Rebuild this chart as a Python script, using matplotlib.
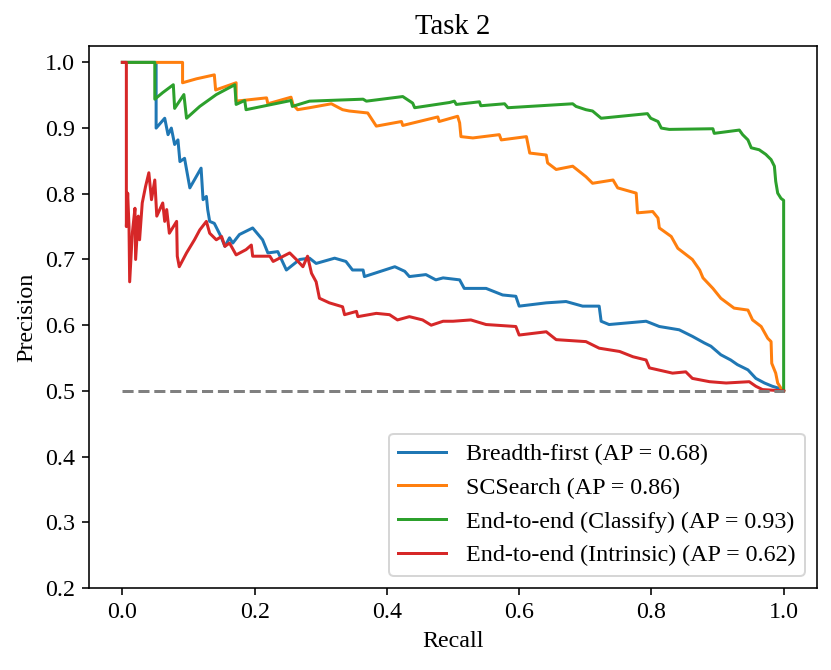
import numpy as np
import matplotlib
matplotlib.use("Agg")
import matplotlib.pyplot as plt

plt.rcParams['font.family'] = ['Liberation Serif', 'DejaVu Serif']
plt.rcParams['font.size'] = 12

# precision-recall curves
bf_recall = [0.0, 0.051, 0.051, 0.064, 0.069, 0.074, 0.079, 0.084, 0.087, 0.094, 0.097, 0.102,
             0.119, 0.122, 0.127, 0.129, 0.132, 0.139, 0.149, 0.155, 0.162, 0.167, 0.177, 0.197,
             0.212, 0.220, 0.235, 0.248, 0.268, 0.283, 0.293, 0.321, 0.338, 0.348, 0.364, 0.366,
             0.412, 0.427, 0.434, 0.459, 0.474, 0.485, 0.510, 0.517, 0.550, 0.575, 0.595, 0.600,
             0.641, 0.671, 0.696, 0.721, 0.724, 0.736, 0.792, 0.812, 0.842, 0.862, 0.880, 0.890,
             0.905, 0.920, 0.930, 0.946, 0.958, 0.971, 0.983, 0.993, 1.0]
bf_precision = [1.0, 1.0, 0.900, 0.915, 0.890, 0.900, 0.875, 0.882, 0.849, 0.854, 0.837, 0.809,
                0.839, 0.791, 0.796, 0.776, 0.758, 0.755, 0.735, 0.720, 0.733, 0.725, 0.738, 0.748,
                0.730, 0.710, 0.712, 0.684, 0.700, 0.702, 0.694, 0.702, 0.697, 0.684, 0.684, 0.674,
                0.689, 0.682, 0.674, 0.677, 0.669, 0.672, 0.669, 0.656, 0.656, 0.646, 0.644, 0.629,
                0.634, 0.636, 0.629, 0.629, 0.606, 0.601, 0.606, 0.598, 0.593, 0.583, 0.573, 0.568,
                0.555, 0.547, 0.540, 0.532, 0.519, 0.512, 0.507, 0.504, 0.500]

sc_recall = [0.0, 0.091, 0.091, 0.112, 0.139, 0.141, 0.172, 0.172, 0.218, 0.220, 0.255, 0.258,
             0.265, 0.283, 0.316, 0.333, 0.343, 0.371, 0.384, 0.422, 0.424, 0.477, 0.479, 0.507,
             0.510, 0.512, 0.530, 0.570, 0.573, 0.611, 0.616, 0.641, 0.643, 0.656, 0.681, 0.691,
             0.701, 0.711, 0.742, 0.749, 0.777, 0.779, 0.802, 0.810, 0.812, 0.830, 0.840, 0.862,
             0.873, 0.878, 0.893, 0.905, 0.925, 0.946, 0.953, 0.966, 0.976, 0.981, 0.982, 0.988,
             0.991, 0.996, 1.0]
sc_precision = [1.0, 1.0, 0.969, 0.975, 0.981, 0.958, 0.969, 0.941, 0.946, 0.937, 0.947, 0.936,
                0.928, 0.931, 0.937, 0.928, 0.926, 0.923, 0.903, 0.910, 0.904, 0.917, 0.910, 0.918,
                0.908, 0.887, 0.885, 0.890, 0.882, 0.887, 0.862, 0.859, 0.847, 0.837, 0.842, 0.834,
                0.826, 0.816, 0.821, 0.809, 0.801, 0.771, 0.773, 0.763, 0.748, 0.735, 0.717, 0.700,
                0.684, 0.672, 0.656, 0.641, 0.626, 0.623, 0.608, 0.598, 0.580, 0.575, 0.542, 0.527,
                0.512, 0.504, 0.500]

cl_recall = [0.0, 0.049, 0.049, 0.061, 0.077, 0.079, 0.093, 0.097, 0.117, 0.142, 0.170, 0.172,
             0.185, 0.187, 0.255, 0.257, 0.283, 0.364, 0.369, 0.424, 0.439, 0.442, 0.495, 0.502,
             0.505, 0.540, 0.542, 0.578, 0.583, 0.681, 0.686, 0.701, 0.711, 0.724, 0.794, 0.799,
             0.810, 0.815, 0.827, 0.893, 0.895, 0.933, 0.938, 0.946, 0.951, 0.963, 0.973, 0.981,
             0.986, 0.988, 0.991, 0.996, 1.0, 1.0]
cl_precision = [1.0, 1.0, 0.944, 0.954, 0.966, 0.930, 0.951, 0.915, 0.933, 0.951, 0.966, 0.936,
                0.942, 0.928, 0.942, 0.933, 0.941, 0.944, 0.941, 0.948, 0.938, 0.931, 0.939, 0.941,
                0.936, 0.940, 0.934, 0.937, 0.931, 0.937, 0.933, 0.928, 0.926, 0.915, 0.922, 0.915,
                0.910, 0.900, 0.898, 0.899, 0.892, 0.897, 0.890, 0.882, 0.870, 0.867, 0.860, 0.852,
                0.842, 0.819, 0.801, 0.793, 0.790, 0.500]

in_recall = [0.0, 0.006, 0.006, 0.008, 0.010, 0.011, 0.015, 0.019, 0.020, 0.024, 0.026, 0.030,
             0.035, 0.040, 0.044, 0.049, 0.052, 0.061, 0.064, 0.067, 0.071, 0.082, 0.083, 0.086,
             0.097, 0.109, 0.117, 0.127, 0.132, 0.142, 0.150, 0.155, 0.162, 0.172, 0.187, 0.195,
             0.197, 0.223, 0.228, 0.253, 0.263, 0.273, 0.280, 0.286, 0.293, 0.298, 0.313, 0.333,
             0.336, 0.354, 0.356, 0.384, 0.404, 0.416, 0.434, 0.454, 0.467, 0.485, 0.500, 0.527,
             0.550, 0.595, 0.600, 0.641, 0.656, 0.701, 0.721, 0.752, 0.772, 0.792, 0.797, 0.832,
             0.852, 0.862, 0.888, 0.913, 0.948, 0.958, 0.968, 1.0]
in_precision = [1.0, 1.0, 0.750, 0.801, 0.750, 0.666, 0.740, 0.778, 0.700, 0.766, 0.730, 0.786,
                0.811, 0.832, 0.791, 0.821, 0.766, 0.786, 0.758, 0.776, 0.740, 0.758, 0.705, 0.689,
                0.710, 0.730, 0.745, 0.758, 0.740, 0.730, 0.735, 0.720, 0.725, 0.707, 0.715, 0.722,
                0.705, 0.705, 0.697, 0.710, 0.700, 0.689, 0.705, 0.679, 0.666, 0.641, 0.634, 0.628,
                0.616, 0.621, 0.613, 0.618, 0.616, 0.608, 0.613, 0.608, 0.600, 0.606, 0.606, 0.608,
                0.601, 0.598, 0.585, 0.590, 0.578, 0.575, 0.565, 0.560, 0.552, 0.547, 0.535, 0.527,
                0.529, 0.519, 0.514, 0.512, 0.514, 0.507, 0.502, 0.500]

labels = ['Breadth-first (AP = 0.68)', 'SCSearch (AP = 0.86)',
          'End-to-end (Classify) (AP = 0.93)', 'End-to-end (Intrinsic) (AP = 0.62)']
baseline = 0.5

fig = plt.figure(figsize=(831 / 144, 670 / 144), dpi=144)
ax = fig.add_axes([0.1075, 0.1224, 0.8753, 0.809])

ax.plot(bf_recall, bf_precision, color='tab:blue', label=labels[0])
ax.plot(sc_recall, sc_precision, color='tab:orange', label=labels[1])
ax.plot(cl_recall, cl_precision, color='tab:green', label=labels[2])
ax.plot(in_recall, in_precision, color='tab:red', label=labels[3])
ax.plot([0, 1], [baseline, baseline], linestyle='--', color='gray')

ax.set_xlim(-0.05, 1.05)
ax.set_ylim(0.2, 1.025)
ax.set_xlabel('Recall')
ax.set_ylabel('Precision')
ax.set_title('Task 2')
ax.legend(loc='lower right')

fig.savefig('out.png', dpi=144)
